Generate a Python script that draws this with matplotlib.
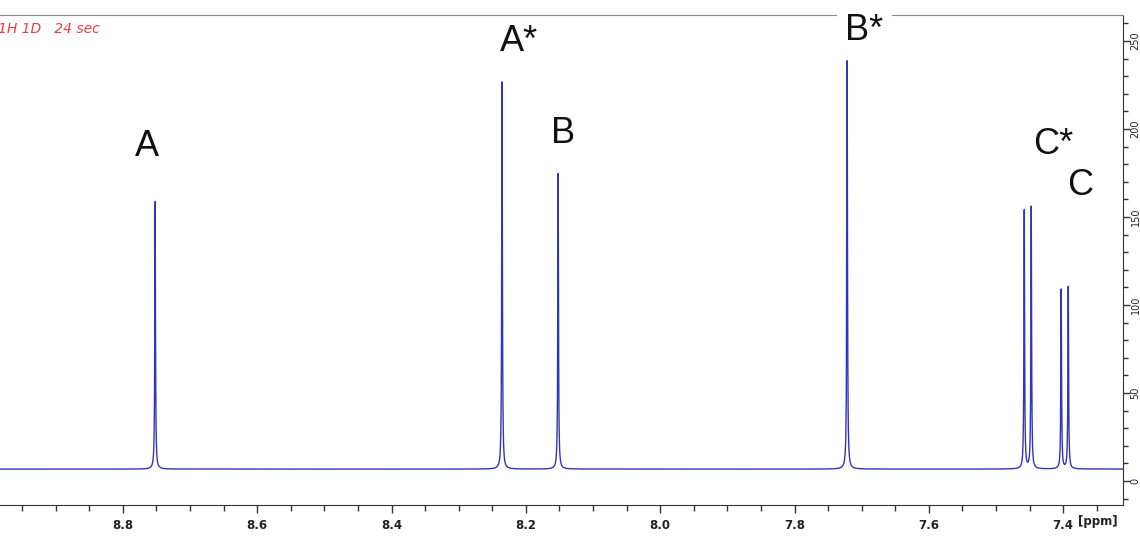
import numpy as np
import matplotlib
matplotlib.use("Agg")
import matplotlib.pyplot as plt
from matplotlib.ticker import MultipleLocator
import matplotlib.transforms as mtransforms

# ---- data ----
peak_ppm = [8.752, 8.2355, 8.152, 7.7217, 7.458, 7.4476, 7.403, 7.3925]
peak_height = [152.0, 220.0, 168.0, 232.0, 147.0, 149.0, 102.0, 103.5]
peak_labels = ["A", "A*", "B", "B*", "C*", "C"]
label_ppm = [8.764, 8.2102, 8.1446, 7.6963, 7.4148, 7.3746]
label_y = [190.0, 249.5, 197.5, 256.0, 191.5, 168.0]
baseline = 6.8
half_width = 0.0006
x_min, x_max = 7.311, 8.983
y_min, y_max = -13.6, 264.8
title_text = "1H 1D   24 sec"

# spectrum from Lorentzian lines
ppm = np.arange(x_min, x_max, 0.00003)
intensity = np.full_like(ppm, baseline)
for p, h in zip(peak_ppm, peak_height):
    intensity += h / (1 + ((ppm - p) / half_width) ** 2)

fig = plt.figure(figsize=(11.4, 5.4), dpi=100)
ax = fig.add_axes([0.0, 35 / 540, 1123 / 1140, 490 / 540])
ax.plot(ppm, intensity, color="#3434b8", lw=1.0)
ax.set_xlim(x_max, x_min)
ax.set_ylim(y_min, y_max)

ax.spines["left"].set_visible(False)
ax.spines["top"].set_color("#888888")
ax.spines["right"].set_color("#333333")
ax.spines["bottom"].set_color("#333333")

ax.yaxis.tick_right()
ax.xaxis.set_major_locator(MultipleLocator(0.2))
ax.xaxis.set_minor_locator(MultipleLocator(0.05))
ax.yaxis.set_major_locator(MultipleLocator(50))
ax.yaxis.set_minor_locator(MultipleLocator(10))
ax.xaxis.set_major_formatter(matplotlib.ticker.FuncFormatter(lambda v, p: f"{v:.1f}" if v > 7.35 else ""))
ax.tick_params(axis="x", which="major", length=6, width=1, color="#333333", pad=4,
               labelsize=8.5, labelcolor="#222222")
ax.tick_params(axis="x", which="minor", length=4, width=1, color="#333333")
ax.tick_params(axis="y", which="major", length=5, width=1, color="#333333", pad=0.5,
               labelsize=7, labelcolor="#222222", labelrotation=90)
ax.tick_params(axis="y", which="minor", length=3.5, width=1, color="#333333")
for t in ax.get_xticklabels():
    t.set_fontweight("bold")
for t in ax.get_yticklabels():
    t.set_va("center")

trans = mtransforms.blended_transform_factory(ax.transData, ax.transAxes)
ax.text(7.349, -0.034, "[ppm]", transform=trans, ha="center", va="center",
        fontsize=8.5, fontweight="bold", color="#222222")

ax.text(-0.002, 0.972, title_text, transform=ax.transAxes, ha="left", va="center",
        fontsize=10, style="italic", color="#e04040")

for lab, xp, yp in zip(peak_labels, label_ppm, label_y):
    kw = {}
    if lab == "B*":
        kw["bbox"] = dict(facecolor="white", edgecolor="none", pad=6)
    ax.text(xp, yp, lab, ha="center", va="center", fontsize=26,
            family="Liberation Sans", color="#111111", clip_on=False, zorder=5, **kw)

fig.savefig("out.png", dpi=100)
